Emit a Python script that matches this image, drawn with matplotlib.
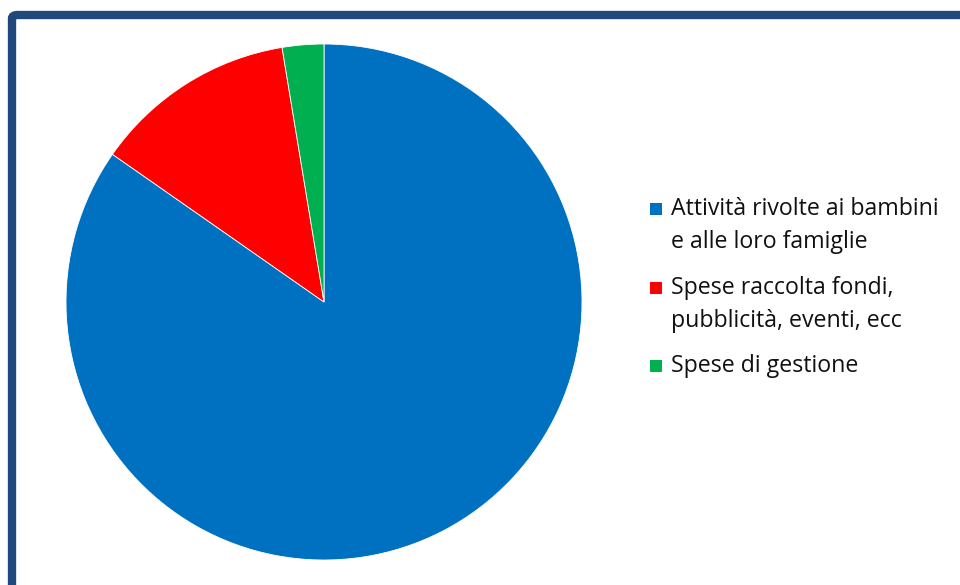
import matplotlib
matplotlib.use("Agg")
import matplotlib.pyplot as plt
from matplotlib.patches import FancyBboxPatch, Rectangle

categories = ["Attività rivolte ai bambini\ne alle loro famiglie",
              "Spese raccolta fondi,\npubblicità, eventi, ecc",
              "Spese di gestione"]
values = [84.7, 12.7, 2.6]
colors = ["#0070C0", "#FF0000", "#00B050"]

W, H = 960, 585
fig = plt.figure(figsize=(9.6, 5.85), dpi=100)
fig.patch.set_facecolor("white")

# border frame
frame = FancyBboxPatch((12 / W, -0.2), 1.2, (H - 15) / H + 0.2,
                       boxstyle="round,pad=0,rounding_size=0.006",
                       transform=fig.transFigure, fill=False,
                       edgecolor="#1F497D", linewidth=6, clip_on=False)
fig.patches.append(frame)

cx, cy, r = 324, 302, 258
ax = fig.add_axes([(cx - r) / W, (H - cy - r) / H, 2 * r / W, 2 * r / H])
ax.pie(values, colors=colors, startangle=90, counterclock=False,
       wedgeprops=dict(edgecolor="white", linewidth=0.6))
ax.set_xlim(-1, 1)
ax.set_ylim(-1, 1)
ax.set_aspect("equal")
ax.axis("off")

font = ["Open Sans", "DejaVu Sans"]
entries_y = [209, 288, 366]
line_gap = 33
for cat, col, y in zip(categories, colors, entries_y):
    fig.patches.append(Rectangle((650 / W, (H - y - 6) / H), 12 / W, 12 / H,
                                 transform=fig.transFigure, facecolor=col,
                                 edgecolor="none"))
    for i, line in enumerate(cat.split("\n")):
        fig.text(671 / W, (H - y - i * line_gap) / H, line, fontsize=16.7,
                 family=font, color="#111111", va="center", ha="left")

fig.savefig("out.png", dpi=100, facecolor="white")
